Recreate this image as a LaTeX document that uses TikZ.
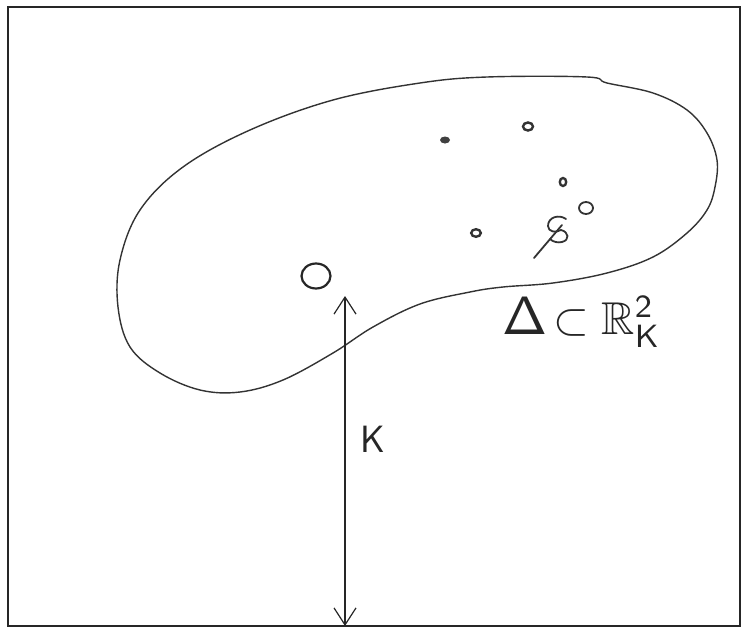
\documentclass[tikz,border=0pt]{standalone}
\usepackage{amssymb}
\usepackage{graphicx}
\usetikzlibrary{arrows.meta,shapes.geometric}
\begin{document}
\begin{tikzpicture}[x=1pt,y=-1pt,
  frame/.style={line width=1.8pt,draw=black!85},
  blobline/.style={line width=1.4pt,draw=black!80},
  ring/.style={line width=2.4pt,draw=black!80},
  pen/.style={line width=1.8pt,draw=black!80,line cap=round,line join=round},
  lbl/.style={inner sep=0pt,text=black!85}]
\useasboundingbox (0,0) rectangle (744,629);
% frame
\draw[frame] (8,7) rectangle (740,626);
% region
\draw[blobline] plot[smooth cycle,tension=0.6] coordinates {
 (487,77) (587,77) (607,83) (653,93) (687,110) (707,133) (717,160) (715,187)
 (707,210) (687,233) (653,257) (607,273) (553,283) (503,287) (470,292)
 (420,304) (373,327) (333,353) (283,380) (240,392) (200,390) (160,373)
 (130,347) (118,307) (120,260) (140,210) (183,167) (250,130) (333,100) (420,83)};
% points
\node[draw,ellipse,line width=2.2pt,minimum width=29pt,minimum height=25pt,inner sep=0pt,draw=black!85] (o) at (316,276) {};
\fill[black!75] (445,140) ellipse [x radius=5, y radius=3.5];
\draw[ring] (528,126.5) ellipse [x radius=5, y radius=4];
\draw[ring] (563,182) ellipse [x radius=3.2, y radius=4];
\draw[ring] (476,233) ellipse [x radius=4.8, y radius=3.8];
\draw[pen] (586,208) ellipse [x radius=7, y radius=6];
% handwritten glyph
\draw[pen] (566,219) .. controls (559,214) and (548,217) .. (548,226)
  .. controls (548,232) and (556,233) .. (561,230)
  .. controls (569,232) and (570,240) .. (562,242)
  .. controls (558,243) and (553,242) .. (550,239);
\draw[pen] (534,258) -- (562,225);
% arrow with K
\coordinate (atop) at (345,296);
\coordinate (abot) at (345,626);
\draw[line width=1.2pt,black!85,{Straight Barb[length=17pt,width=22pt,line width=1.2pt]}-{Straight Barb[length=17pt,width=22pt,line width=1.2pt]}] (atop) -- (abot);
\node[lbl,font=\sffamily\fontsize{38}{38}\selectfont] (k) at (373,439) {K};
% label
\node[lbl,anchor=west] (dl) at (502,322) {\scalebox{5.4}{$\mathsf{\Delta}$}\hspace{6pt}\scalebox{4.6}{$\subset\mathbb{R}^{\mathsf{2}}_{\mathsf{K}}$}};
\end{tikzpicture}
\end{document}
